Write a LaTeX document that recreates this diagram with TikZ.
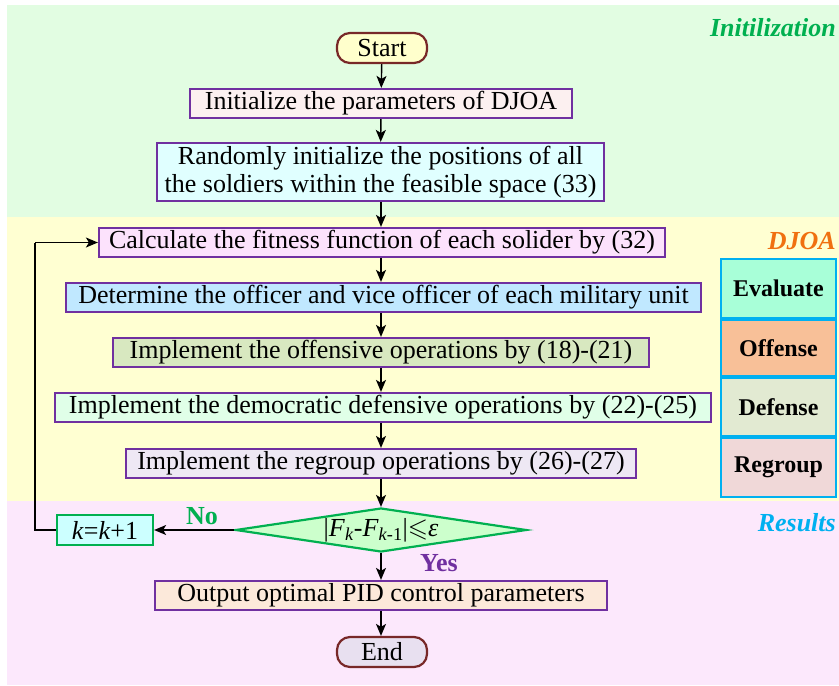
\documentclass[tikz,border=0pt]{standalone}
\usepackage{fontspec}
\setmainfont{Liberation Serif}
\usepackage{amssymb}
\usetikzlibrary{shapes.geometric,arrows.meta,positioning}
\definecolor{bggreen}{RGB}{226,253,226}
\definecolor{bgyellow}{RGB}{255,255,210}
\definecolor{bgpink}{RGB}{252,232,252}
\definecolor{purp}{RGB}{112,48,160}
\definecolor{grn}{RGB}{0,176,80}
\definecolor{cyanb}{RGB}{0,176,240}
\definecolor{brownb}{RGB}{120,40,40}
\definecolor{orng}{RGB}{240,112,16}
\definecolor{fstart}{RGB}{255,255,204}
\definecolor{finit}{RGB}{252,240,240}
\definecolor{frand}{RGB}{224,255,255}
\definecolor{fcalc}{RGB}{252,226,252}
\definecolor{fdet}{RGB}{192,232,255}
\definecolor{foff}{RGB}{216,232,192}
\definecolor{fdef}{RGB}{224,255,232}
\definecolor{freg}{RGB}{238,232,244}
\definecolor{fdec}{RGB}{204,255,204}
\definecolor{fk}{RGB}{204,255,255}
\definecolor{fout}{RGB}{252,233,218}
\definecolor{fend}{RGB}{232,224,240}
\definecolor{fev}{RGB}{168,255,216}
\definecolor{fof}{RGB}{248,192,152}
\definecolor{fde}{RGB}{226,234,210}
\definecolor{frg}{RGB}{240,216,216}
\begin{document}
\begin{tikzpicture}[x=1pt,y=-1pt,
  every node/.style={font=\fontsize{26}{28}\selectfont, inner sep=0pt},
  procbox/.style={draw=purp, line width=2.2pt, rectangle, minimum height=29pt, align=center},
  termbox/.style={draw=brownb, line width=2.2pt, rectangle, rounded corners=13pt, minimum width=90pt, minimum height=30pt},
  sidebox/.style={draw=cyanb, line width=2pt, rectangle, minimum width=115pt, font=\fontsize{24}{28}\selectfont\bfseries},
  arr/.style={-{Stealth[length=12pt,width=10pt,inset=3pt]}, line width=1.4pt, black},
  zonelabel/.style={anchor=east, font=\fontsize{26}{28}\selectfont\bfseries\itshape}
]
\useasboundingbox (0,0) rectangle (839,686);
% backgrounds
\fill[bggreen] (7,5) rectangle (839,217);
\fill[bgyellow] (7,217) rectangle (839,501);
\fill[bgpink] (7,501) rectangle (839,685);
\node[zonelabel, text=grn] (lz1) at (836,28) {Initilization};
\node[zonelabel, text=orng] (lz2) at (836,241) {DJOA};
\node[zonelabel, text=cyanb] (lz3) at (836,523) {Results};
% nodes
\node[termbox, fill=fstart] (start) at (382,48) {Start};
\node[procbox, fill=finit, minimum width=382pt] (init) at (381,103.5) {Initialize the parameters of DJOA};
\node[procbox, fill=frand, minimum width=447pt, minimum height=58pt] (rand) at (380.5,172) {Randomly initialize the positions of all\\the soldiers within the feasible space (33)};
\node[procbox, fill=fcalc, minimum width=566pt] (calc) at (382,242.5) {Calculate the fitness function of each solider by (32)};
\node[procbox, fill=fdet, minimum width=635pt] (det) at (383.5,297.5) {Determine the officer and vice officer of each military unit};
\node[procbox, fill=foff, minimum width=536pt] (off) at (381,352.5) {Implement the offensive operations by (18)-(21)};
\node[procbox, fill=fdef, minimum width=656pt] (def) at (383,407.5) {Implement the democratic defensive operations by (22)-(25)};
\node[procbox, fill=freg, minimum width=510pt] (reg) at (381,463.5) {Implement the regroup operations by (26)-(27)};
\node[diamond, draw=grn, line width=2.2pt, fill=fdec, minimum width=291pt, minimum height=44pt, aspect=6.6, inner sep=0pt] (dec) at (381,530) {|\textit{F}\textsubscript{\textit{k}}-\textit{F}\textsubscript{\textit{k}-1}|$\leqslant$\textit{ε}};
\node[draw=grn, line width=2.2pt, rectangle, fill=fk, minimum width=96pt, minimum height=30pt] (kinc) at (105,530) {\textit{k}=\textit{k}+1};
\node[procbox, fill=fout, minimum width=452pt] (out) at (381,595.5) {Output optimal PID control parameters};
\node[termbox, fill=fend] (stop) at (382,652) {End};
% side table
\node[sidebox, fill=fev, minimum height=59pt] (ev) at (778.5,288.5) {Evaluate};
\node[sidebox, fill=fof, minimum height=56pt, below=0pt of ev] (of) {Offense};
\node[sidebox, fill=fde, minimum height=58pt, below=0pt of of] (de) {Defense};
\node[sidebox, fill=frg, minimum height=59pt, below=0pt of de] (rg) {Regroup};
% labels
\node[text=grn, font=\fontsize{26}{28}\selectfont\bfseries] (no) at (202,516) {No};
\node[text=purp, font=\fontsize{26}{28}\selectfont\bfseries] (yes) at (439,563) {Yes};
% arrows
\coordinate (c1) at (35,530);
\coordinate (c2) at (35,242.5);
\draw[arr] (start) -- (init);
\draw[arr] (init) -- (rand);
\draw[arr] (rand.south-|381,0) -- (calc.north-|381,0);
\draw[arr] (calc.south-|381,0) -- (det.north-|381,0);
\draw[arr] (det.south-|381,0) -- (off.north-|381,0);
\draw[arr] (off.south-|381,0) -- (def.north-|381,0);
\draw[arr] (def.south-|381,0) -- (reg.north-|381,0);
\draw[arr] (reg) -- (dec);
\draw[arr] (dec) -- (kinc);
\draw[line width=1.4pt] (kinc.west) -- (c1) -- (c2);
\draw[arr] (c2) -- (calc.west);
\draw[arr] (dec) -- (out);
\draw[arr] (out.south-|381,0) -- (stop.north-|381,0);
\end{tikzpicture}
\end{document}
